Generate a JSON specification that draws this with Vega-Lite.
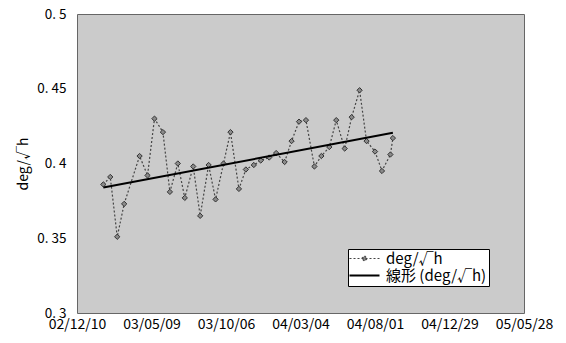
{
  "$schema": "https://vega.github.io/schema/vega-lite/v6.json",
  "width": 447,
  "height": 299,
  "autosize": {"type": "none"},
  "padding": {"left": 77, "top": 14, "right": 42, "bottom": 30},
  "background": "white",
  "config": {
    "view": {"fill": "#cbcbcb", "stroke": "#666666", "strokeWidth": 1},
    "font": "Noto Sans CJK JP"
  },
  "datasets": {
    "obs": [
      {"date": "2003-02-01", "v": 0.386},
      {"date": "2003-02-15", "v": 0.391},
      {"date": "2003-03-01", "v": 0.351},
      {"date": "2003-03-15", "v": 0.373},
      {"date": "2003-04-15", "v": 0.405},
      {"date": "2003-05-01", "v": 0.392},
      {"date": "2003-05-15", "v": 0.430},
      {"date": "2003-06-01", "v": 0.421},
      {"date": "2003-06-15", "v": 0.381},
      {"date": "2003-07-01", "v": 0.400},
      {"date": "2003-07-15", "v": 0.377},
      {"date": "2003-08-01", "v": 0.398},
      {"date": "2003-08-15", "v": 0.365},
      {"date": "2003-09-01", "v": 0.399},
      {"date": "2003-09-15", "v": 0.376},
      {"date": "2003-10-01", "v": 0.400},
      {"date": "2003-10-15", "v": 0.421},
      {"date": "2003-11-01", "v": 0.383},
      {"date": "2003-11-15", "v": 0.396},
      {"date": "2003-12-01", "v": 0.399},
      {"date": "2003-12-15", "v": 0.402},
      {"date": "2004-01-01", "v": 0.404},
      {"date": "2004-01-15", "v": 0.407},
      {"date": "2004-02-01", "v": 0.401},
      {"date": "2004-02-15", "v": 0.415},
      {"date": "2004-03-01", "v": 0.428},
      {"date": "2004-03-15", "v": 0.429},
      {"date": "2004-04-01", "v": 0.398},
      {"date": "2004-04-15", "v": 0.405},
      {"date": "2004-05-01", "v": 0.411},
      {"date": "2004-05-15", "v": 0.429},
      {"date": "2004-06-01", "v": 0.410},
      {"date": "2004-06-15", "v": 0.431},
      {"date": "2004-07-01", "v": 0.449},
      {"date": "2004-07-15", "v": 0.415},
      {"date": "2004-08-01", "v": 0.408},
      {"date": "2004-08-15", "v": 0.395},
      {"date": "2004-09-01", "v": 0.406},
      {"date": "2004-09-06", "v": 0.417}
    ],
    "trend": [
      {"date": "2003-02-01", "v": 0.384},
      {"date": "2004-09-06", "v": 0.4205}
    ]
  },
  "encoding": {
    "x": {
      "field": "date",
      "type": "temporal",
      "scale": {
        "type": "utc",
        "domain": [
          {"year": 2002, "month": 12, "date": 10, "utc": true},
          {"year": 2005, "month": 5, "date": 28, "utc": true}
        ]
      },
      "axis": {
        "title": null,
        "grid": false,
        "ticks": false,
        "domain": false,
        "format": "%y/%m/%d",
        "labelFontSize": 14,
        "labelColor": "#000000",
        "labelPadding": 4,
        "labelFlush": false,
        "labelOverlap": false,
        "values": [
          {"year": 2002, "month": 12, "date": 10, "utc": true},
          {"year": 2003, "month": 5, "date": 9, "utc": true},
          {"year": 2003, "month": 10, "date": 6, "utc": true},
          {"year": 2004, "month": 3, "date": 4, "utc": true},
          {"year": 2004, "month": 8, "date": 1, "utc": true},
          {"year": 2004, "month": 12, "date": 29, "utc": true},
          {"year": 2005, "month": 5, "date": 28, "utc": true}
        ]
      }
    },
    "y": {
      "field": "v",
      "type": "quantitative",
      "scale": {"domain": [0.3, 0.5], "nice": false, "zero": false},
      "axis": {
        "title": "deg/√h",
        "titleFontSize": 14,
        "titleFontWeight": "normal",
        "titleColor": "#000000",
        "titlePadding": 6,
        "grid": false,
        "ticks": false,
        "domain": false,
        "values": [0.3, 0.35, 0.4, 0.45, 0.5],
        "labelExpr": "replace(format(datum.value, '.2~f'), '.', '. ')",
        "labelFontSize": 13.5,
        "labelColor": "#000000",
        "labelPadding": 11
      }
    }
  },
  "layer": [
    {
      "data": {"name": "obs"},
      "mark": {"type": "line", "strokeDash": [2, 2], "strokeWidth": 1.2},
      "encoding": {
        "color": {
          "datum": "deg/√h",
          "type": "nominal",
          "scale": {
            "domain": ["deg/√h", "線形 (deg/√h)"],
            "range": ["#444444", "#000000"]
          },
          "legend": {
            "title": null,
            "orient": "none",
            "legendX": 271,
            "legendY": 235,
            "fillColor": "#ffffff",
            "strokeColor": "#000000",
            "padding": 2,
            "rowPadding": 1,
            "labelFontSize": 15,
            "labelColor": "#000000",
            "labelLimit": 300,
            "labelOffset": 14,
            "symbolSize": 900,
            "symbolOffset": 7,
            "encode": {
              "symbols": {
                "update": {
                  "shape": {"signal": "datum.value === 'deg/√h' ? 'M-1,0H1M-0.18,0L0,-0.18L0.18,0L0,0.18Z' : 'stroke'"},
                  "strokeDash": {"signal": "datum.value === 'deg/√h' ? [2,2] : [1,0]"},
                  "fill": {"signal": "datum.value === 'deg/√h' ? '#888888' : 'transparent'"},
                  "strokeWidth": {"signal": "datum.value === 'deg/√h' ? 1.2 : 2"}
                }
              }
            }
          }
        }
      }
    },
    {
      "data": {"name": "obs"},
      "mark": {"type": "point", "shape": "diamond", "filled": true, "size": 28, "fill": "#8a8a8a", "stroke": "#333333", "strokeWidth": 1, "opacity": 1}
    },
    {
      "data": {"name": "trend"},
      "mark": {"type": "line", "strokeWidth": 2},
      "encoding": {
        "color": {"datum": "線形 (deg/√h)", "type": "nominal"}
      }
    }
  ]
}
